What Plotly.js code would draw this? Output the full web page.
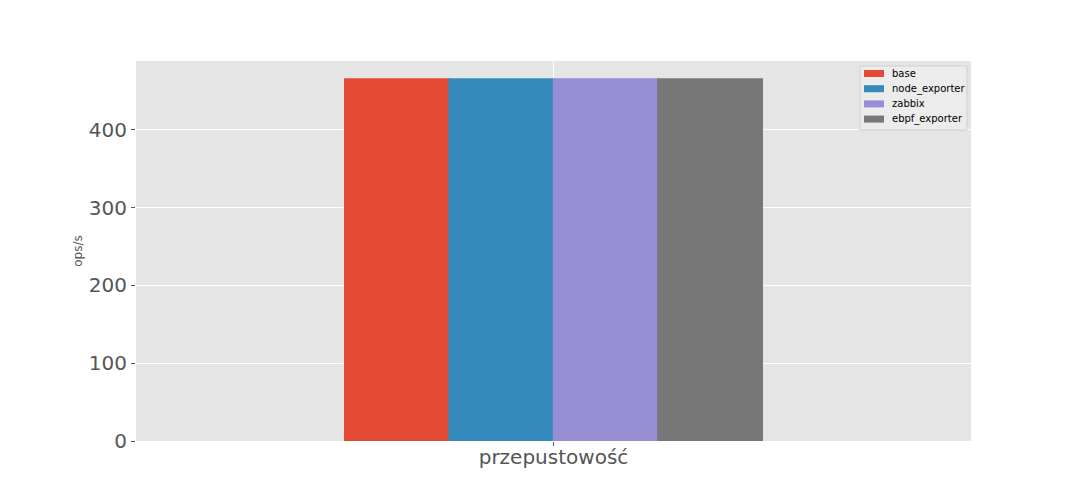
<!DOCTYPE html>
<html>
<head>
<meta charset="utf-8">
<script src="https://cdn.plot.ly/plotly-3.0.1.min.js"></script>
<style>html,body{margin:0;padding:0;background:#fff;}#chart{width:1080px;height:504px;}</style>
</head>
<body>
<div id="chart"></div>
<script>
const categories = ["przepustowość"];
const seriesNames = ["base", "node_exporter", "zabbix", "ebpf_exporter"];
const base = [465.5];
const nodeExporter = [465.5];
const zabbix = [465.5];
const ebpfExporter = [465.5];
const yTicks = [0, 100, 200, 300, 400];

const values = [base, nodeExporter, zabbix, ebpfExporter];
const colors = ["#E24A33", "#348ABD", "#988ED5", "#777777"];
const yMax = 488.7;

const traces = seriesNames.map((name, i) => ({
  type: "bar",
  name: name,
  x: categories,
  y: values[i],
  marker: {color: colors[i], line: {width: 1.5, color: colors[i]}},
  hoverinfo: "none",
  showlegend: false
}));

// plot area in pixels (for positioning the legend box in paper coordinates)
const PL = 136, PR = 971, PT = 61, PB = 441;
const px = v => (v - PL) / (PR - PL);
const py = v => (PB - v) / (PB - PT);

const topOfBars = Math.max(...values.map(v => v[0]));
const shapes = [{
  // vertical x grid line, visible above the bars only (bars hide it below)
  type: "line", xref: "x", yref: "y",
  x0: 0, x1: 0, y0: topOfBars, y1: yMax,
  line: {color: "#ffffff", width: 1},
  layer: "below"
}, {
  type: "rect", xref: "paper", yref: "paper",
  x0: px(860), x1: px(967), y0: py(130), y1: py(66),
  fillcolor: "rgba(236,236,236,0.9)",
  line: {color: "#d0d0d0", width: 1},
  layer: "above"
}];
const annotations = [];
const rowTop = 73.5, rowStep = 15.2;
seriesNames.forEach((name, i) => {
  const cy = rowTop + i * rowStep;
  shapes.push({
    type: "rect", xref: "paper", yref: "paper",
    x0: px(864), x1: px(884), y0: py(cy + 3.5), y1: py(cy - 3.5),
    fillcolor: colors[i], line: {width: 0}, layer: "above"
  });
  annotations.push({
    xref: "paper", yref: "paper", x: px(890), y: py(cy),
    xanchor: "left", yanchor: "middle", showarrow: false,
    text: name, font: {size: 10, color: "#000000", family: "DejaVu Sans"}
  });
});

const layout = {
  width: 1080,
  height: 504,
  margin: {l: 136, r: 109, t: 61, b: 63, pad: 0},
  paper_bgcolor: "#ffffff",
  plot_bgcolor: "#E5E5E5",
  barmode: "group",
  bargap: 0.5,
  bargroupgap: 0,
  font: {family: "DejaVu Sans", color: "#555555"},
  showlegend: false,
  shapes: shapes,
  annotations: annotations,
  xaxis: {
    type: "category",
    range: [-0.5, 0.5],
    showgrid: false,
    zeroline: false,
    ticks: "outside", ticklen: 4, tickcolor: "#555555", tickwidth: 1,
    tickfont: {size: 20, color: "#555555", family: "DejaVu Sans"},
    ticklabelstandoff: -6,
    showline: false,
    fixedrange: true
  },
  yaxis: {
    range: [0, yMax],
    tickvals: yTicks,
    ticktext: yTicks.map(String),
    showgrid: true, gridcolor: "#ffffff", gridwidth: 1,
    zeroline: false,
    ticks: "outside", ticklen: 4, tickcolor: "#555555", tickwidth: 1,
    tickfont: {size: 20, color: "#555555", family: "DejaVu Sans"},
    title: {text: "ops/s", font: {size: 12, color: "#555555", family: "DejaVu Sans"}, standoff: 3},
    automargin: false,
    showline: false,
    fixedrange: true
  }
};

Plotly.newPlot("chart", traces, layout, {staticPlot: true, displayModeBar: false});
</script>
</body>
</html>
